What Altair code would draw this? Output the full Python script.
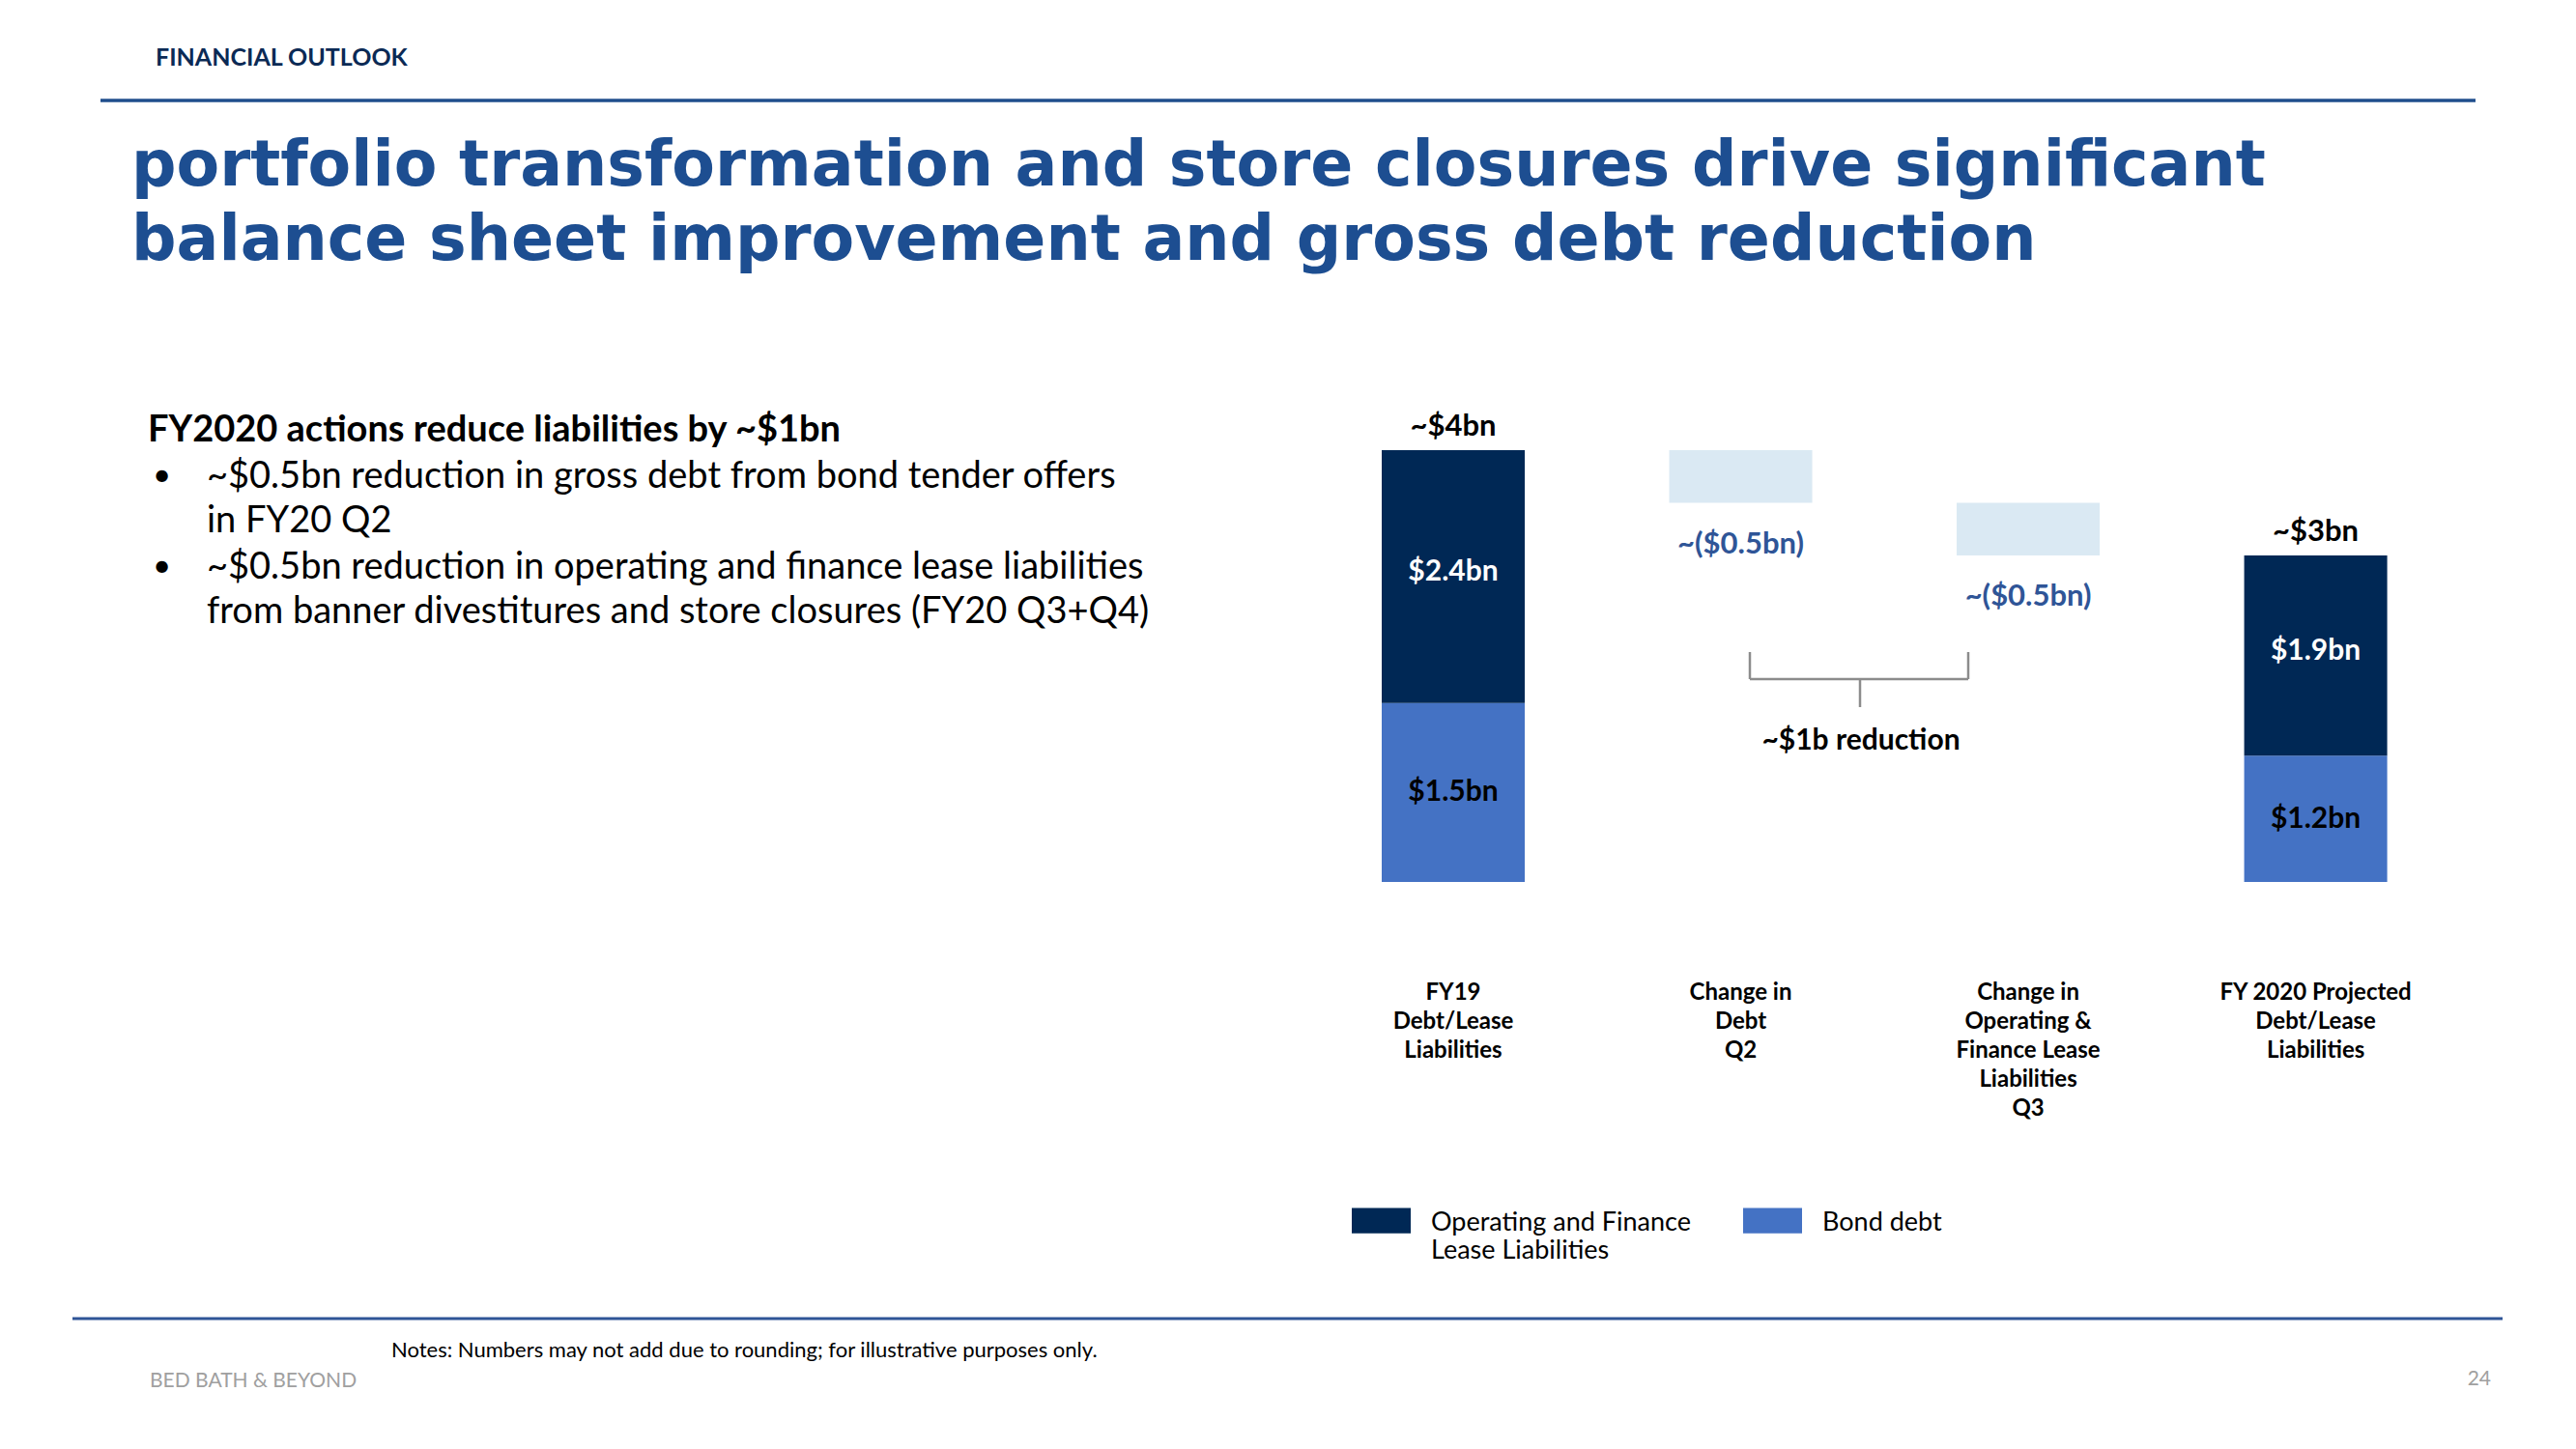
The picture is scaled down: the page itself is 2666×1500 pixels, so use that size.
import altair as alt
import pandas as pd

# ---------------- data ----------------
categories = ["FY19", "Q2", "Q3", "FY20"]
category_labels = [
    "FY19\nDebt/Lease\nLiabilities",
    "Change in\nDebt\nQ2",
    "Change in\nOperating &\nFinance Lease\nLiabilities\nQ3",
    "FY 2020 Projected\nDebt/Lease\nLiabilities",
]
series_names = ["Operating  and Finance Lease Liabilities", "Bond debt"]

# stacked bars (heights as drawn in the illustrative chart, $bn)
stack_categories = ["FY19", "FY20"]
bond_debt = [1.7, 1.2]
lease_liab = [2.4, 1.9]
bond_text = ["$1.5bn", "$1.2bn"]
lease_text = ["$2.4bn", "$1.9bn"]
total_text = ["~$4bn", "~$3bn"]

# waterfall changes
change_categories = ["Q2", "Q3"]
changes = [-0.5, -0.5]
change_text = ["~($0.5bn)", "~($0.5bn)"]

# ---------------- styles ----------------
DARK = "#002855"
BLUE = "#4472C4"
LIGHT = "#DAE9F3"
TITLE_BLUE = "#1D4E91"
LABEL_BLUE = "#2F5597"
BODY = "Lato"
OFF = 8  # page margin


def P(v):
    return v - OFF


# ---------------- tables ----------------
rows = []
for c, b, l, bt, lt in zip(stack_categories, bond_debt, lease_liab, bond_text, lease_text):
    rows.append({"cat": c, "series": series_names[1], "y0": 0.0, "y1": b,
                 "mid": b / 2, "label": bt})
    rows.append({"cat": c, "series": series_names[0], "y0": b, "y1": b + l,
                 "mid": b + l / 2, "label": lt})
bars = pd.DataFrame(rows)

totals = pd.DataFrame({
    "cat": stack_categories,
    "top": [b + l for b, l in zip(bond_debt, lease_liab)],
    "label": total_text,
})

level = bond_debt[0] + lease_liab[0]
wrows = []
for c, d, t in zip(change_categories, changes, change_text):
    wrows.append({"cat": c, "start": level, "end": level + d, "label": t})
    level += d
water = pd.DataFrame(wrows)

cat_df = pd.DataFrame({"cat": categories, "label": category_labels})

# ---------------- scales ----------------
xscale = alt.Scale(domain=categories, range=[P(1430), P(2470.6)],
                   paddingInner=0.5025, paddingOuter=0)
yscale = alt.Scale(domain=[0, 4.1], range=[P(913), P(466)])

X = alt.X("cat:N", scale=xscale, axis=None)


def Y(field):
    return alt.Y(field, scale=yscale, axis=None)


swatch_path = "M-1,-0.07H1V0.79H-1Z"

bar_layer = alt.Chart(bars).mark_bar().encode(
    x=X,
    y=Y("y0:Q"),
    y2="y1:Q",
    color=alt.Color(
        "series:N",
        scale=alt.Scale(domain=series_names, range=[DARK, BLUE]),
        legend=alt.Legend(
            title=None, orient="none", legendX=P(1399), legendY=P(1222),
            direction="horizontal", columns=2,
            symbolType=swatch_path, symbolSize=3721, symbolStrokeWidth=0,
            symbolOpacity=1,
            labelFont=BODY, labelFontSize=27, labelColor="black",
            labelBaseline="top", labelOffset=21, columnPadding=47,
            labelLimit=0, padding=0,
            labelExpr="indexof(datum.label, 'Operating') >= 0 ? ['Operating  and Finance', 'Lease Liabilities'] : [datum.label, ' ']",
        ),
    ),
)

bond_labels = alt.Chart(bars).transform_filter(
    alt.datum.series == series_names[1]
).mark_text(
    font=BODY, fontWeight="bold", fontSize=30, baseline="middle", align="center",
    color="black"
).encode(x=X, y=Y("mid:Q"), text="label:N")

lease_labels = alt.Chart(bars).transform_filter(
    alt.datum.series == series_names[0]
).mark_text(
    font=BODY, fontWeight="bold", fontSize=30, baseline="middle", align="center",
    color="white", dy=-5
).encode(x=X, y=Y("mid:Q"), text="label:N")

total_labels = alt.Chart(totals).mark_text(
    font=BODY, fontWeight="bold", fontSize=31, baseline="middle", align="center",
    dy=-24, color="black"
).encode(x=X, y=Y("top:Q"), text="label:N")

water_bars = alt.Chart(water).mark_bar(color=LIGHT).encode(
    x=X, y=Y("start:Q"), y2="end:Q"
)

water_labels = alt.Chart(water).mark_text(
    font=BODY, fontWeight="bold", fontSize=31, baseline="middle", align="center",
    dy=43, color=LABEL_BLUE
).encode(x=X, y=Y("end:Q"), text="label:N")

cat_labels = alt.Chart(cat_df).mark_text(
    font=BODY, fontWeight="bold", fontSize=24, baseline="top", align="center",
    lineBreak="\n", lineHeight=30, color="black"
).encode(x=X, y=alt.value(P(1016)), text="label:N")


# ---------------- slide annotations ----------------
def txt(text, x, y, size, weight="normal", color="black", align="left",
        baseline="middle", font=BODY):
    return alt.Chart(pd.DataFrame({"t": [text]})).mark_text(
        font=font, fontSize=size, fontWeight=weight, color=color,
        align=align, baseline=baseline
    ).encode(x=alt.value(P(x)), y=alt.value(P(y)), text="t:N")


def hline(x1, x2, y, color, width):
    return alt.Chart(pd.DataFrame({"a": [0]})).mark_rule(
        color=color, strokeWidth=width).encode(
        x=alt.value(P(x1)), x2=alt.value(P(x2)), y=alt.value(P(y)))


def vline(x, y1, y2, color, width):
    return alt.Chart(pd.DataFrame({"a": [0]})).mark_rule(
        color=color, strokeWidth=width).encode(
        x=alt.value(P(x)), y=alt.value(P(y1)), y2=alt.value(P(y2)))


GRAY = "#8C8C8C"
brace = [
    vline(1811, 675, 703, GRAY, 2.5),
    vline(2037, 675, 703, GRAY, 2.5),
    hline(1811, 2037, 703, GRAY, 2.5),
    vline(1925, 703, 732, GRAY, 2.5),
]

TITLE_FONT = "DejaVu Sans"
annotations = [
    txt("FINANCIAL OUTLOOK", 161, 60, 25, "bold", "#0B2A55"),
    hline(104, 2562, 104, "#1F4E8C", 3.5),
    txt("portfolio transformation and store closures drive significant",
        136, 192, 65, "bold", TITLE_BLUE, baseline="alphabetic", font=TITLE_FONT),
    txt("balance sheet improvement and gross debt reduction",
        136, 269, 65, "bold", TITLE_BLUE, baseline="alphabetic", font=TITLE_FONT),
    txt("FY2020 actions reduce liabilities by ~$1bn", 153, 446, 38, "bold"),
    txt("•", 158, 493, 33),
    txt("~$0.5bn reduction in gross debt from bond tender offers", 214, 494, 38),
    txt("in FY20 Q2", 214, 540, 38),
    txt("•", 158, 587, 33),
    txt("~$0.5bn reduction in operating and finance lease liabilities", 214, 588, 38),
    txt("from banner divestitures and store closures  (FY20 Q3+Q4)", 214, 634, 38),
    *brace,
    txt("~$1b reduction", 1926, 767, 30, "bold", align="center"),
    hline(75, 2590, 1365, "#2F5597", 3),
    txt("Notes:  Numbers may not add due to rounding; for illustrative purposes only.",
        405, 1398, 22),
    txt("BED BATH & BEYOND", 155, 1430, 21, color="#A0A0A0"),
    txt("24", 2578, 1428, 21, color="#A0A0A0", align="right"),
]

chart = alt.layer(
    water_bars, bar_layer, bond_labels, lease_labels, total_labels, water_labels,
    cat_labels, *annotations
).properties(
    width=2650, height=1484, padding=0,
    autosize=alt.AutoSizeParams(type="none"),
    background="white",
).configure_view(stroke=None)

chart.save("out.html", embed_options={"renderer": "svg", "actions": False})
